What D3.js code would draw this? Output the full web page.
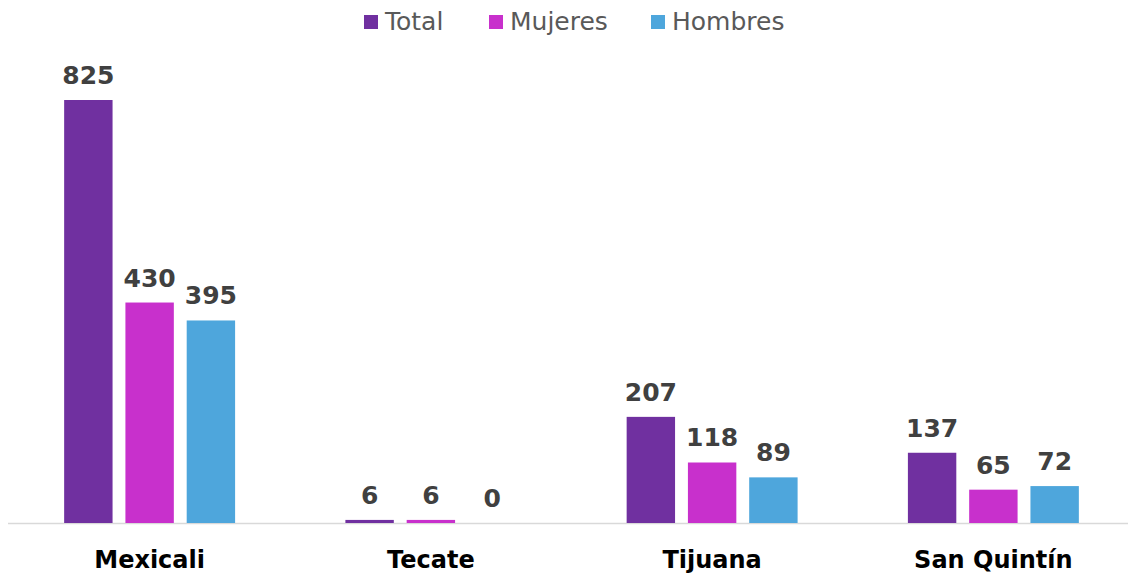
<!DOCTYPE html>
<html>
<head>
<meta charset="utf-8">
<script src="https://cdn.jsdelivr.net/npm/d3@7"></script>
<style>
  body { margin: 0; background: #fff; }
  svg { display: block; }
</style>
</head>
<body>
<div id="content"></div>
<script>
var width = 1128,
    height = 573;

// data
var municipios = ["Mexicali", "Tecate", "Tijuana", "San Quintín"];
var series = ["Total", "Mujeres", "Hombres"];
var total = [825, 6, 207, 137];
var mujeres = [430, 6, 118, 65];
var hombres = [395, 0, 89, 72];
var colores = ["#7030a0", "#c830cc", "#4ea6dc"];

var values = [total, mujeres, hombres];
var rows = municipios.map(function (m, i) {
    return { name: m, vals: series.map(function (s, j) { return { key: s, value: values[j][i] }; }) };
});

var baseY = 523;

var svg = d3.select("#content")
    .append("svg")
    .attr("width", width)
    .attr("height", height);

var x0 = d3.scaleBand()
    .domain(municipios)
    .range([9, 1134]);

var x1 = d3.scaleBand()
    .domain(series)
    .range([0, x0.bandwidth()])
    .paddingInner(0.21)
    .paddingOuter(0.9);

var y = d3.scaleLinear()
    .domain([0, 825])
    .range([baseY, 100]);

var color = d3.scaleOrdinal()
    .domain(series)
    .range(colores);

// baseline
svg.append("line")
    .attr("x1", 8).attr("x2", width)
    .attr("y1", baseY + 0.5).attr("y2", baseY + 0.5)
    .attr("stroke", "#d9d9d9")
    .attr("stroke-width", 1.5);

var groups = svg.selectAll("g.grp")
    .data(rows)
    .enter()
    .append("g")
    .attr("class", "grp")
    .attr("transform", function (d) { return "translate(" + x0(d.name) + ",0)"; });

groups.selectAll("rect")
    .data(function (d) { return d.vals; })
    .enter()
    .append("rect")
    .attr("x", function (d) { return x1(d.key); })
    .attr("width", x1.bandwidth())
    .attr("y", function (d) { return y(d.value); })
    .attr("height", function (d) { return baseY - y(d.value); })
    .attr("fill", function (d) { return color(d.key); });

groups.selectAll("text.val")
    .data(function (d) { return d.vals; })
    .enter()
    .append("text")
    .attr("class", "val")
    .attr("x", function (d) { return x1(d.key) + x1.bandwidth() / 2; })
    .attr("y", function (d) { return y(d.value) - 16; })
    .attr("text-anchor", "middle")
    .style("font-family", "'DejaVu Sans', sans-serif")
    .style("font-weight", "bold")
    .style("font-size", "25px")
    .style("fill", "#404040")
    .text(function (d) { return d.value; });

// category labels
svg.selectAll("text.cat")
    .data(municipios)
    .enter()
    .append("text")
    .attr("class", "cat")
    .attr("x", function (d) { return x0(d) + x0.bandwidth() / 2; })
    .attr("y", 568)
    .attr("text-anchor", "middle")
    .style("font-family", "'DejaVu Sans', sans-serif")
    .style("font-weight", "bold")
    .style("font-size", "24px")
    .style("fill", "#000")
    .text(function (d) { return d; });

// legend
var legendX = [364, 489, 651];
var legend = svg.selectAll("g.leg")
    .data(series)
    .enter()
    .append("g")
    .attr("class", "leg")
    .attr("transform", function (d, i) { return "translate(" + legendX[i] + ",0)"; });

legend.append("rect")
    .attr("x", 0).attr("y", 15)
    .attr("width", 14).attr("height", 14)
    .attr("fill", function (d) { return color(d); });

legend.append("text")
    .attr("x", 21)
    .attr("y", 30)
    .style("font-family", "'DejaVu Sans', sans-serif")
    .style("font-size", "25px")
    .style("fill", "#595959")
    .text(function (d) { return d; });
</script>
</body>
</html>
